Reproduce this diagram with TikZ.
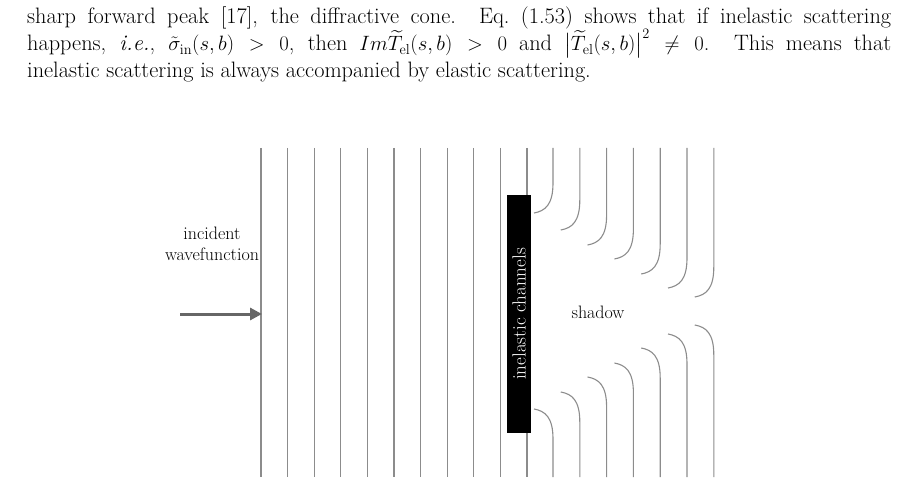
\documentclass[tikz,border=0pt]{standalone}
\usepackage{amsmath}
\usetikzlibrary{positioning,arrows.meta,calc}
\tikzset{wave/.style={draw=black!45,line width=1.1pt},
  lbl/.style={font=\fontsize{18}{21}\selectfont,align=center}}
\begin{document}
\begin{tikzpicture}[x=1pt,y=-1pt]
  \useasboundingbox (0,0) rectangle (918,486);
  \node[anchor=north west,text width=864pt,align=justify,inner sep=0pt,
        font=\fontsize{22.3}{27}\selectfont] (para) at (27,7)
  {sharp forward peak [17], the diffractive cone. Eq.~(1.53) shows that if inelastic scattering\linebreak
   happens, \textit{i.e.}, $\tilde\sigma_{\mathrm{in}}(s,b)>0$, then $Im\widetilde{T}_{\mathrm{el}}(s,b)>0$ and
   $\bigl|\widetilde{T}_{\mathrm{el}}(s,b)\bigr|^{2}\neq0$. This means that\linebreak
   inelastic scattering is always accompanied by elastic scattering.};
%
  \foreach \i in {0,...,10}
    \draw[wave] (261+26.6*\i,148) -- (261+26.6*\i,477);
  \foreach \i/\ye in {0/213,1/230,2/245,3/259,4/274,5/288,6/297}{
    \pgfmathsetmacro\xx{553+26.8*\i}
    \draw[wave] (\xx,148) -- (\xx,\ye-30) .. controls (\xx,\ye-8) and (\xx-8,\ye-2) .. (\xx-19,\ye);
    \draw[wave] (\xx,477) -- (\xx,622-\ye+30) .. controls (\xx,622-\ye+8) and (\xx-8,622-\ye+2) .. (\xx-19,622-\ye);
  }
%
  \node[fill=black,minimum width=24pt,minimum height=238pt,inner sep=0pt] (box) at (519,314) {};
  \node[rotate=90,text=white,font=\fontsize{19}{20}\selectfont] (chan) at (box) {inelastic channels};
  \node[lbl] (shadow) at (598,312) {shadow};
  \node[lbl] (inc) at (212,244) {incident\\wavefunction};
  \coordinate (from) at (180,314);
  \coordinate (to) at (262,314);
  \draw[draw=black!60,line width=3pt,-{Triangle[length=12pt,width=12pt]}] (from) -- (to);
\end{tikzpicture}
\end{document}
